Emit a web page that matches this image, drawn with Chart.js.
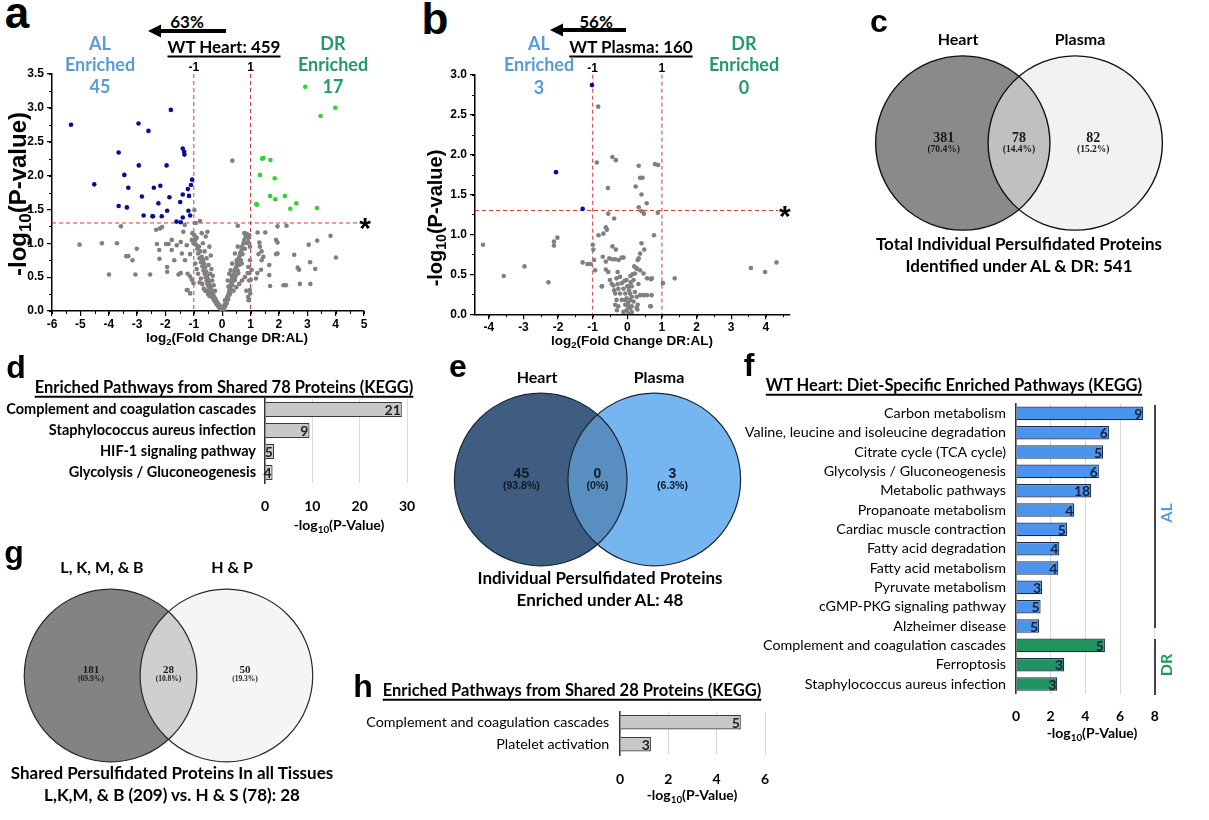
<!DOCTYPE html>
<html lang="en">
<head>
<meta charset="UTF-8">
<meta name="viewport" content="width=device-width, initial-scale=1.0">
<title>Persulfidated proteins: WT heart and plasma</title>
<script src="https://cdn.jsdelivr.net/npm/chart.js"></script>
<style>
  body { margin: 0; background: #fff; }
  #fig { position: relative; width: 1209px; height: 820px; overflow: hidden; font-family: Lato, "Open Sans", sans-serif; color: #000; }
  #fig canvas { position: absolute; }
  .tx { position: absolute; transform: translate(-50%, -50%); white-space: nowrap; line-height: 1; font-weight: bold; }
  .letter { font-family: "Liberation Sans", Arial, sans-serif; font-size: 32px; }
  .big { font-size: 44px; }
  .ttl { font-size: 16.5px; text-decoration: underline; text-decoration-thickness: 1.5px; text-underline-offset: 3px; }
  .cap { font-size: 17px; }
  .sans { font-family: "Liberation Sans", Arial, sans-serif; }
  .axb { font-size: 14px; }
  .al { color: #5b9bd5; font-size: 18px; }
  .dr { color: #239a68; font-size: 18px; }
  .rot { transform: translate(-50%, -50%) rotate(-90deg); }
  sub { font-size: 70%; vertical-align: -0.3em; line-height: 0; }
  .vline { position: absolute; width: 1.5px; background: #444; }
</style>
</head>
<body>
<div id="fig">
  <canvas id="heartVolcano" width="375" height="280" style="left:0px;top:55px"></canvas>
  <canvas id="plasmaVolcano" width="385" height="280" style="left:420px;top:55px"></canvas>
  <canvas id="vennC"></canvas>
  <canvas id="vennE"></canvas>
  <canvas id="vennG"></canvas>
  <canvas id="sharedBars" width="420" height="130" style="left:0px;top:390px"></canvas>
  <canvas id="dietBars" width="430" height="345" style="left:740px;top:395px"></canvas>
  <canvas id="tissueBars" width="430" height="90" style="left:350px;top:700px"></canvas>

  <!-- panel a -->
  <div class="tx letter big" style="left:17px;top:13px">a</div>
  <div class="tx" style="left:187px;top:21px;font-size:17px">63%</div>
  <svg style="position:absolute;left:146px;top:23px" width="82" height="16">
    <line x1="80" y1="8" x2="12" y2="8" stroke="#000" stroke-width="4"/>
    <polygon points="2,8 15,1.5 15,14.5" fill="#000"/>
  </svg>
  <div class="tx ttl" style="left:224px;top:46px;font-size:17px">WT Heart: 459</div>
  <div class="tx al" style="left:100px;top:43px">AL</div>
  <div class="tx al" style="left:100px;top:64px">Enriched</div>
  <div class="tx al" style="left:100px;top:86px">45</div>
  <div class="tx dr" style="left:333px;top:43px">DR</div>
  <div class="tx dr" style="left:333px;top:64px">Enriched</div>
  <div class="tx dr" style="left:333px;top:86px">17</div>
  <div class="tx sans rot" style="left:18px;top:194px;font-size:24px">-log<sub>10</sub>(P-value)</div>
  <div class="tx sans" style="left:227px;top:338px;font-size:13.5px">log<sub>2</sub>(Fold Change DR:AL)</div>

  <!-- panel b -->
  <div class="tx letter big" style="left:435px;top:19px">b</div>
  <div class="tx" style="left:596px;top:21px;font-size:17px">56%</div>
  <svg style="position:absolute;left:548px;top:22px" width="80" height="16">
    <line x1="78" y1="8" x2="12" y2="8" stroke="#000" stroke-width="4"/>
    <polygon points="2,8 15,1.5 15,14.5" fill="#000"/>
  </svg>
  <div class="tx ttl" style="left:631px;top:46px;font-size:17px">WT Plasma: 160</div>
  <div class="tx al" style="left:539px;top:43px">AL</div>
  <div class="tx al" style="left:539px;top:64px">Enriched</div>
  <div class="tx al" style="left:539px;top:87px">3</div>
  <div class="tx dr" style="left:744px;top:43px">DR</div>
  <div class="tx dr" style="left:744px;top:64px">Enriched</div>
  <div class="tx dr" style="left:744px;top:87px">0</div>
  <div class="tx sans rot" style="left:435px;top:218px;font-size:20px">-log<sub>10</sub>(P-value)</div>
  <div class="tx sans" style="left:632px;top:341px;font-size:13.5px">log<sub>2</sub>(Fold Change DR:AL)</div>

  <!-- panel c -->
  <div class="tx letter" style="left:879px;top:21px">c</div>
  <div class="tx" style="left:958px;top:39px;font-size:16px">Heart</div>
  <div class="tx" style="left:1080px;top:39px;font-size:16px">Plasma</div>
  <div class="tx cap" style="left:1019px;top:243px">Total Individual Persulfidated Proteins</div>
  <div class="tx cap" style="left:1019px;top:265px">Identified under AL &amp; DR: 541</div>

  <!-- panel d -->
  <div class="tx letter" style="left:16px;top:367px">d</div>
  <div class="tx ttl" style="left:224px;top:387px">Enriched Pathways from Shared 78 Proteins (KEGG)</div>
  <div class="tx axb" style="left:339px;top:525px">-log<sub>10</sub>(P-Value)</div>

  <!-- panel e -->
  <div class="tx letter" style="left:458px;top:366px">e</div>
  <div class="tx" style="left:537px;top:377px;font-size:16px">Heart</div>
  <div class="tx" style="left:659px;top:377px;font-size:16px">Plasma</div>
  <div class="tx cap" style="left:600px;top:577px">Individual Persulfidated Proteins</div>
  <div class="tx cap" style="left:600px;top:599px">Enriched under AL: 48</div>

  <!-- panel f -->
  <div class="tx letter" style="left:749px;top:365px">f</div>
  <div class="tx ttl" style="left:954px;top:385px">WT Heart: Diet-Specific Enriched Pathways (KEGG)</div>
  <div class="vline" style="left:1154px;top:405px;height:223px"></div>
  <div class="vline" style="left:1154px;top:639px;height:56px"></div>
  <div class="tx rot" style="left:1166px;top:513px;font-size:16px;color:#5b9bd5">AL</div>
  <div class="tx rot" style="left:1166px;top:665px;font-size:16px;color:#1f9a5f">DR</div>
  <div class="tx axb" style="left:1092px;top:733px">-log<sub>10</sub>(P-Value)</div>

  <!-- panel g -->
  <div class="tx letter" style="left:14px;top:552px">g</div>
  <div class="tx" style="left:102px;top:567px;font-size:16px">L, K, M, &amp; B</div>
  <div class="tx" style="left:232px;top:567px;font-size:16px">H &amp; P</div>
  <div class="tx cap" style="left:172px;top:772px">Shared Persulfidated Proteins In all Tissues</div>
  <div class="tx cap" style="left:172px;top:794px">L,K,M, &amp; B (209) vs. H &amp; S (78): 28</div>

  <!-- panel h -->
  <div class="tx letter" style="left:363px;top:686px">h</div>
  <div class="tx ttl" style="left:572px;top:690px">Enriched Pathways from Shared 28 Proteins (KEGG)</div>
  <div class="tx axb" style="left:692px;top:795px">-log<sub>10</sub>(P-Value)</div>
</div>

<script>
// ---- panel a: WT heart volcano (log2 FC, -log10 p) ----
const heartAL = [[-5.33,2.75],[-4.51,1.87],[-3.65,2.34],[-2.95,2.77],[-2.60,2.66],[-1.81,2.97],
  [-2.94,2.15],[-3.45,2.01],[-1.96,2.15],[-1.39,2.40],[-1.34,2.35],[-1.33,2.31],[-3.31,1.82],
  [-2.41,1.82],[-2.18,1.85],[-1.06,1.94],[-1.10,1.86],[-1.21,1.80],[-2.83,1.69],[-1.86,1.68],
  [-1.39,1.72],[-1.17,1.70],[-3.65,1.55],[-3.36,1.53],[-2.25,1.59],[-1.48,1.61],[-1.94,1.48],
  [-1.19,1.48],[-2.77,1.41],[-2.46,1.40],[-2.44,1.40],[-2.13,1.40],[-1.13,1.41],[-1.39,1.38],
  [-1.61,1.32],[-1.46,1.31]];
const heartDR = [[2.93,3.31],[3.99,3.00],[3.47,2.88],[1.41,2.25],[1.45,2.26],[1.70,2.23],
  [1.33,2.01],[1.85,1.96],[1.69,1.70],[1.87,1.65],[2.21,1.70],[1.20,1.58],[1.22,1.57],
  [2.61,1.59],[2.40,1.51],[3.34,1.52]];
const heartOther = [[-5.03,0.98],[-4.24,1.00],[-3.71,1.00],[-3.99,0.54],[-3.57,1.25],[-3.38,0.81],
  [-3.31,0.81],[-3.16,0.75],[-3.01,0.92],[-3.06,0.54],[-2.54,0.54],[-2.33,1.20],[-2.19,1.22],
  [-2.12,1.24],[-2.30,0.99],[-2.22,0.90],[-2.21,0.77],[-1.98,0.99],[-1.89,0.99],[-1.94,0.65],
  [-1.94,0.58],[-1.78,1.05],[-1.69,0.75],[-1.78,0.90],[-1.54,0.54],[-1.46,0.56],[-1.60,0.97],
  [-1.46,1.02],[-1.37,1.17],[-1.32,1.27],[-1.42,0.85],[-1.31,0.75],[-1.25,0.97],[-1.22,0.31],
  [-1.13,0.84],[-1.07,1.05],[-1.01,1.00],[-0.98,1.49],[-0.93,1.30],[-0.78,1.33],[-1.05,1.15],
  [-1.22,0.55],[-1.13,0.51],[-1.07,0.46],[-1.01,0.41],[-1.25,0.31],[-1.13,0.26],
  [-0.98,1.12],[-0.95,1.05],[-0.92,0.98],[-0.90,1.08],[-0.88,0.92],[-0.85,0.85],[-0.82,0.95],
  [-0.80,0.78],[-0.78,0.88],[-0.75,0.72],[-0.72,0.80],[-0.70,0.66],[-0.68,0.75],[-0.66,0.60],
  [-0.64,0.70],[-0.62,0.55],[-0.60,0.64],[-0.58,0.50],[-0.56,0.58],[-0.55,0.45],[-0.53,0.52],
  [-0.52,0.40],[-0.50,0.47],[-0.48,0.36],[-0.47,0.42],[-0.45,0.32],[-0.44,0.38],[-0.42,0.29],
  [-0.41,0.34],[-0.40,0.26],[-0.38,0.31],[-0.37,0.23],[-0.35,0.28],[-0.34,0.20],[-0.32,0.25],
  [-0.31,0.18],[-0.30,0.22],[-0.28,0.16],[-0.27,0.20],[-0.25,0.14],[-0.24,0.18],[-0.22,0.12],
  [-0.21,0.15],[-0.19,0.10],[-0.18,0.13],[-0.16,0.08],[-0.15,0.11],[-0.13,0.07],[-0.12,0.09],
  [-0.10,0.05],[-0.09,0.08],[-0.07,0.04],[-0.06,0.06],[-0.04,0.03],[-0.03,0.05],[-0.01,0.02],
  [-0.85,0.55],[-0.75,0.48],[-0.70,0.40],[-0.65,0.33],[-0.60,0.30],[-0.90,0.62],[-0.95,0.70],
  [-0.55,0.30],[-0.50,0.25],[-0.45,0.22],[-0.80,0.42],[-0.62,0.88],[-0.55,0.78],[-0.48,0.68],
  [-0.42,0.55],[-0.35,0.45],[-0.30,0.38],[-0.25,0.30],[-0.68,1.00],[-0.58,1.10],[-0.52,1.17],
  [-0.45,0.95],[-0.40,0.82],[-0.72,1.15],[-0.38,0.62],[-0.33,0.52],
  [0.01,0.02],[0.03,0.04],[0.05,0.06],[0.06,0.03],[0.08,0.08],[0.10,0.10],[0.11,0.07],[0.13,0.13],
  [0.15,0.16],[0.16,0.11],[0.18,0.20],[0.20,0.22],[0.21,0.17],[0.23,0.26],[0.25,0.30],[0.26,0.24],
  [0.28,0.34],[0.30,0.38],[0.31,0.31],[0.33,0.42],[0.35,0.46],[0.36,0.38],[0.38,0.50],[0.40,0.54],
  [0.42,0.45],[0.44,0.58],[0.46,0.62],[0.48,0.52],[0.50,0.66],[0.52,0.70],[0.54,0.60],[0.56,0.74],
  [0.58,0.78],[0.60,0.68],[0.62,0.82],[0.64,0.86],[0.66,0.75],[0.68,0.90],[0.70,0.95],[0.72,0.84],
  [0.75,1.00],[0.78,1.05],[0.80,0.92],[0.83,1.10],[0.86,1.14],[0.88,1.00],[0.92,1.08],[0.95,1.12],
  [0.40,0.30],[0.50,0.35],[0.60,0.40],[0.70,0.45],[0.80,0.50],[0.90,0.56],[0.95,0.45],[0.85,0.30],
  [0.92,0.21],[0.97,0.31],[0.30,0.60],[0.35,0.70],[0.45,0.85],[0.55,0.95],[0.25,0.55],[0.20,0.45],
  [0.98,0.75],[0.92,0.65],[0.96,0.56],[1.01,0.46],[1.04,0.61],[0.63,0.83],[0.51,0.75],[0.69,0.70],
  [0.57,0.56],[0.34,0.51],[0.45,0.46],[0.22,0.36],[0.28,0.26],[0.10,0.16],[0.99,0.26],[0.93,0.16],
  [0.55,1.26],[0.78,1.15],[0.87,1.10],[0.92,1.02],[0.98,0.95],[1.25,1.16],[1.52,1.16],[1.95,1.25],
  [2.27,1.26],[1.90,1.05],[1.95,1.01],[1.31,1.01],[1.33,0.95],[1.39,0.88],[1.28,0.84],[1.45,0.80],
  [1.39,0.75],[1.90,0.84],[1.95,0.85],[1.66,0.68],[1.37,0.61],[1.24,0.56],[1.19,0.48],[1.66,0.53],
  [1.69,0.37],[2.16,0.38],[2.25,0.38],[2.54,0.83],[2.71,0.61],[2.66,0.64],[2.74,0.40],[3.11,0.40],
  [3.05,0.98],[3.35,1.04],[3.82,1.11],[3.10,0.72],[3.28,0.62],[4.01,0.79],[0.36,2.22]];

// ---- panel b: WT plasma volcano ----
const plasmaAL = [[-1.02,2.87],[-2.06,1.78],[-1.29,1.32]];
const plasmaDR = [];
const plasmaOther = [[-0.84,2.60],[-0.88,1.90],[-0.43,1.97],[-0.33,1.93],[-0.56,1.58],[-0.55,1.26],
  [-0.38,1.20],[0.33,1.86],[0.80,1.88],[0.89,1.87],[0.37,1.71],[0.44,1.71],[0.24,1.60],[0.41,1.50],
  [0.56,1.39],[0.33,1.34],[0.48,1.26],[0.41,1.29],[0.88,1.27],[0.77,0.99],[-4.17,0.87],[-3.57,0.48],
  [-2.97,0.60],[-2.28,0.40],[-2.12,0.86],[-2.12,0.91],[-2.02,0.96],[-1.29,0.65],[-1.15,0.63],
  [-1.06,0.63],[-1.00,0.87],[-0.98,0.81],[-0.96,0.68],[-0.93,0.55],[-0.83,0.99],[-0.69,1.01],
  [-0.62,1.09],[-0.59,1.06],[-0.73,0.35],[-0.71,0.72],[-0.62,0.66],[-0.52,0.70],[-0.43,0.85],
  [-0.33,0.81],[-0.62,0.56],[-0.55,0.53],[-0.43,0.69],[-0.35,0.69],[-0.25,0.68],[-0.16,0.71],
  [-0.11,0.71],[0.41,0.89],[0.49,0.81],[0.37,0.76],[0.33,0.70],[0.30,0.68],[0.27,0.58],[0.37,0.55],
  [0.47,0.51],[0.57,0.45],[0.68,0.44],[1.03,0.39],[1.37,0.45],[0.70,0.24],[0.47,0.24],[0.57,0.24],
  [0.68,0.10],[3.57,0.58],[3.98,0.53],[4.31,0.65],[0.29,0.06],
  [-0.31,0.45],[-0.28,0.53],[-0.21,0.47],[-0.16,0.39],[-0.26,0.32],[-0.11,0.32],[-0.21,0.26],
  [-0.06,0.26],[-0.02,0.20],[-0.16,0.18],[0.03,0.14],[-0.06,0.12],[0.08,0.08],[-0.02,0.05],
  [0.13,0.03],[0.03,0.01],[0.18,0.43],[0.22,0.51],[0.27,0.57],[0.13,0.35],[0.22,0.28],[0.13,0.22],
  [0.27,0.22],[0.18,0.16],[0.37,0.24],[-0.02,0.43],[0.03,0.35],[-0.31,0.18],[-0.26,0.10],
  [-0.11,0.03],[-0.40,0.36],[-0.35,0.26],[0.08,0.26],[0.08,0.18],[-0.06,0.18],[0.13,0.10],
  [0.27,0.08],[-0.74,0.35],[0.71,0.45],[0.66,0.10],[-0.50,0.43],[-0.45,0.38],[-0.38,0.30],
  [-0.30,0.05],[-0.35,0.12],[-0.28,0.38],[0.20,0.60],[0.15,0.50],[0.10,0.40],[0.05,0.30],
  [0.00,0.35],[0.02,0.10],[-0.08,0.42],[0.32,0.38],[0.30,0.12],[0.09,0.48]];

const foldCutoffs = [-1, 1];
const pCutoff = 1.3;

// ---- panel d: pathways from the 78 shared proteins ----
const sharedPathways = ['Complement and coagulation cascades', 'Staphylococcus aureus infection',
  'HIF-1 signaling pathway', 'Glycolysis / Gluconeogenesis'];
const sharedLogP = [28.9, 9.4, 1.9, 1.6];
const sharedCounts = [21, 9, 5, 4];

// ---- panel f: diet-specific pathways in WT heart ----
const dietPathways = ['Carbon metabolism', 'Valine, leucine and isoleucine degradation',
  'Citrate cycle (TCA cycle)', 'Glycolysis / Gluconeogenesis', 'Metabolic pathways',
  'Propanoate metabolism', 'Cardiac muscle contraction', 'Fatty acid degradation',
  'Fatty acid metabolism', 'Pyruvate metabolism', 'cGMP-PKG signaling pathway', 'Alzheimer disease',
  'Complement and coagulation cascades', 'Ferroptosis', 'Staphylococcus aureus infection'];
const dietLogP = [7.34, 5.36, 5.03, 4.78, 4.34, 3.36, 2.94, 2.50, 2.44, 1.50, 1.42, 1.34, 5.13, 2.78, 2.38];
const dietCounts = [9, 6, 5, 6, 18, 4, 5, 4, 4, 3, 5, 5, 5, 3, 3];
const dietGroup = ['AL','AL','AL','AL','AL','AL','AL','AL','AL','AL','AL','AL','DR','DR','DR'];

// ---- panel h: pathways from the 28 proteins shared by all tissues ----
const tissuePathways = ['Complement and coagulation cascades', 'Platelet activation'];
const tissueLogP = [5.0, 1.28];
const tissueCounts = [5, 3];

// ---- venn diagrams: [left only, shared, right only] ----
const heartPlasmaCounts = [381, 78, 82];
const heartPlasmaPct = ['70.4', '14.4', '15.2'];
const alEnrichedCounts = [45, 0, 3];
const alEnrichedPct = ['93.8', '0', '6.3'];
const tissueSetCounts = [181, 28, 50];
const tissueSetPct = ['69.9', '10.8', '19.3'];

Chart.defaults.font.family = "Lato, 'Open Sans', sans-serif";
Chart.defaults.color = '#000';
Chart.defaults.animation = false;
Chart.defaults.plugins.legend.display = false;
Chart.defaults.plugins.tooltip.enabled = false;

const axisFont = { family: "'Liberation Sans', Arial, sans-serif", weight: 'bold', size: 12 };

// keep the plot area exactly where the layout padding puts it
function noEdgePadding(s) {
  s.paddingLeft = 0; s.paddingRight = 0; s.paddingTop = 0; s.paddingBottom = 0;
}

// red dashed cut-off lines, their labels and the significance star
const cutoffPlugin = {
  id: 'cutoffs',
  beforeDatasetsDraw(chart, args, o) {
    const { ctx, chartArea: a, scales: { x, y } } = chart;
    const py = y.getPixelForValue(o.p);
    const endX = x.getPixelForValue(o.end);
    ctx.save();
    ctx.strokeStyle = '#d4373b';
    ctx.lineWidth = 1;
    ctx.setLineDash([4, 3]);
    o.fold.forEach(v => {
      const px = x.getPixelForValue(v);
      ctx.beginPath(); ctx.moveTo(px, a.top); ctx.lineTo(px, a.bottom); ctx.stroke();
    });
    ctx.beginPath(); ctx.moveTo(a.left, py); ctx.lineTo(endX, py); ctx.stroke();
    ctx.setLineDash([]);
    ctx.fillStyle = '#000';
    ctx.font = "bold 12px 'Liberation Sans'";
    ctx.textAlign = 'center';
    ctx.textBaseline = 'bottom';
    o.fold.forEach(v => ctx.fillText(String(v), x.getPixelForValue(v), a.top));
    ctx.font = "bold 30px 'Liberation Sans'";
    ctx.textAlign = 'left';
    ctx.textBaseline = 'middle';
    ctx.fillText('*', endX + 1, py + 7);
    ctx.restore();
  }
};

// small minor ticks between the labelled ones
const minorTicks = {
  id: 'minorTicks',
  afterDraw(chart, args, o) {
    const { ctx, chartArea: a, scales: { x, y } } = chart;
    ctx.save();
    ctx.strokeStyle = '#000';
    ctx.lineWidth = 1;
    for (let v = Math.ceil(x.min / o.x) * o.x; v <= x.max + 1e-9; v += o.x) {
      const px = Math.round(x.getPixelForValue(v)) + 0.5;
      ctx.beginPath(); ctx.moveTo(px, a.bottom); ctx.lineTo(px, a.bottom + 3); ctx.stroke();
    }
    for (let v = 0; v <= y.max + 1e-9; v += o.y) {
      const py = Math.round(y.getPixelForValue(v)) + 0.5;
      ctx.beginPath(); ctx.moveTo(a.left, py); ctx.lineTo(a.left - 3, py); ctx.stroke();
    }
    ctx.restore();
  }
};

function volcano(id, al, dr, other, cfg) {
  const toXY = arr => arr.map(p => ({ x: p[0], y: p[1] }));
  return new Chart(document.getElementById(id), {
    type: 'scatter',
    data: {
      datasets: [
        { data: toXY(al), backgroundColor: '#0a0a9c', borderWidth: 0, pointRadius: 2.3 },
        { data: toXY(dr), backgroundColor: '#2fd42f', borderWidth: 0, pointRadius: 2.3 },
        { data: toXY(other), backgroundColor: '#808080', borderWidth: 0, pointRadius: 2.3 }
      ]
    },
    options: {
      responsive: false,
      layout: { padding: { top: cfg.padTop, right: cfg.padRight, left: 0, bottom: 0 } },
      plugins: {
        cutoffs: { fold: foldCutoffs, p: pCutoff, end: cfg.lineEnd },
        minorTicks: { x: 0.5, y: 0.25 }
      },
      scales: {
        x: {
          type: 'linear', min: cfg.xMin, max: cfg.xMax,
          afterFit: s => { s.height = cfg.xH; noEdgePadding(s); },
          afterBuildTicks: s => { s.ticks = s.ticks.filter(t => Number.isInteger(t.value)); },
          ticks: { stepSize: 1, includeBounds: false, padding: 1, font: axisFont, color: '#000' },
          grid: { drawOnChartArea: false, tickLength: 5, color: '#000', lineWidth: 1.2 },
          border: { color: '#000', width: 1.5 }
        },
        y: {
          min: 0, max: cfg.yMax,
          afterFit: s => { s.width = cfg.yW; noEdgePadding(s); },
          ticks: { stepSize: 0.5, padding: 3, font: axisFont, color: '#000', callback: v => v.toFixed(1) },
          grid: { drawOnChartArea: false, tickLength: 5, color: '#000', lineWidth: 1.2 },
          border: { color: '#000', width: 1.5 }
        }
      }
    },
    plugins: [cutoffPlugin, minorTicks]
  });
}

// gene counts written inside the end of each bar
const countLabels = {
  id: 'countLabels',
  afterDatasetsDraw(chart, args, o) {
    const ctx = chart.ctx;
    ctx.save();
    ctx.font = "bold 14px Lato, 'Open Sans', sans-serif";
    ctx.fillStyle = o.color;
    ctx.textAlign = 'right';
    ctx.textBaseline = 'middle';
    chart.getDatasetMeta(0).data.forEach((bar, i) => ctx.fillText(String(o.counts[i]), bar.x - 1, bar.y + 1));
    ctx.restore();
  }
};

function pathwayBars(id, labels, values, counts, colors, cfg) {
  return new Chart(document.getElementById(id), {
    type: 'bar',
    data: {
      labels: labels,
      datasets: [{ data: values, backgroundColor: colors, borderColor: cfg.edge, borderWidth: 1.2,
        barPercentage: cfg.barPct, categoryPercentage: 1 }]
    },
    options: {
      indexAxis: 'y',
      responsive: false,
      layout: { padding: { top: cfg.padTop, right: cfg.padRight, left: 0, bottom: 0 } },
      plugins: { countLabels: { counts: counts, color: cfg.countColor } },
      scales: {
        y: {
          afterFit: s => { s.width = cfg.yW; noEdgePadding(s); },
          ticks: { padding: cfg.labelPad, font: cfg.labelFont, color: '#000', autoSkip: false },
          grid: { display: false, drawTicks: false, tickLength: 0 },
          border: { color: '#333', width: 1.5 }
        },
        x: {
          min: 0, max: cfg.xMax,
          afterFit: s => { s.height = cfg.xH; noEdgePadding(s); },
          ticks: { stepSize: cfg.step, padding: cfg.tickPad, font: { weight: 'bold', size: 14 }, color: '#000' },
          grid: { color: '#d9d9d9', drawTicks: false },
          border: { display: false }
        }
      }
    },
    plugins: [countLabels]
  });
}

// venn: two circles from a bubble chart, the lens painted on top, then the counts
const vennCenters = [-1, 1];
const vennTextPos = [-1.34, 0, 1.32];
const vennHalf = 2.65;

const vennLens = {
  id: 'vennLens',
  afterDatasetsDraw(chart, args, o) {
    const [a, b] = chart.getDatasetMeta(0).data;
    const ctx = chart.ctx;
    const r = o.radius;
    ctx.save();
    ctx.beginPath(); ctx.arc(a.x, a.y, r, 0, 2 * Math.PI); ctx.clip();
    ctx.beginPath(); ctx.arc(b.x, b.y, r, 0, 2 * Math.PI);
    ctx.fillStyle = o.color; ctx.fill();
    ctx.restore();
    ctx.save();
    ctx.strokeStyle = o.edge; ctx.lineWidth = o.width;
    [a, b].forEach(p => { ctx.beginPath(); ctx.arc(p.x, p.y, r, 0, 2 * Math.PI); ctx.stroke(); });
    const cy = a.y;
    ctx.textAlign = 'center';
    ctx.textBaseline = 'alphabetic';
    ctx.fillStyle = o.ink;
    const x = chart.scales.x;
    o.counts.forEach((c, i) => {
      const px = x.getPixelForValue(vennTextPos[i]);
      ctx.font = o.numFont; ctx.fillText(String(c), px, cy + o.numDy);
      ctx.font = o.pctFont; ctx.fillText('(' + o.pcts[i] + '%)', px, cy + o.pctDy);
    });
    ctx.restore();
  }
};

function venn(id, cx, cy, unit, r, counts, pcts, look) {
  const el = document.getElementById(id);
  const size = Math.round(2 * vennHalf * unit);
  const radiusPx = r * size / (2 * vennHalf);
  el.width = size; el.height = size;
  el.style.left = Math.round(cx - size / 2) + 'px';
  el.style.top = Math.round(cy - size / 2) + 'px';
  return new Chart(el, {
    type: 'bubble',
    data: {
      datasets: [{
        data: vennCenters.map(c => ({ x: c, y: 0 })),
        backgroundColor: look.fills, borderWidth: 0,
        radius: radiusPx, hoverRadius: 0, clip: false
      }]
    },
    options: {
      responsive: false,
      layout: { padding: 0, autoPadding: false },
      scales: {
        x: { display: false, min: -vennHalf, max: vennHalf },
        y: { display: false, min: -vennHalf, max: vennHalf }
      },
      plugins: {
        vennLens: { radius: radiusPx, color: look.lens, edge: look.edge, width: look.width, ink: look.ink,
          counts: counts, pcts: pcts, numFont: look.numFont, pctFont: look.pctFont,
          numDy: look.numDy, pctDy: look.pctDy }
      }
    },
    plugins: [vennLens]
  });
}

volcano('heartVolcano', heartAL, heartDR, heartOther,
  { xMin: -6, xMax: 5, yMax: 3.5, yW: 52, xH: 24, padTop: 19, padRight: 11, lineEnd: 4.8 });
volcano('plasmaVolcano', plasmaAL, plasmaDR, plasmaOther,
  { xMin: -4.4, xMax: 4.7, yMax: 3.0, yW: 55, xH: 20.7, padTop: 19.7, padRight: 15, lineEnd: 4.35 });

const serifLook = {
  edge: '#111', width: 1.4, ink: '#1a1a1a',
  numFont: "bold 14px 'Liberation Serif', serif", pctFont: "bold 9.5px 'Liberation Serif', serif",
  numDy: -1, pctDy: 9
};
venn('vennC', 1018.9, 142.5, 56.15, 1.55, heartPlasmaCounts, heartPlasmaPct,
  Object.assign({}, serifLook, { fills: ['#8a8a8a', '#f2f2f2'], lens: '#c0c0c0' }));
venn('vennE', 597.5, 479, 56.7, 1.52, alEnrichedCounts, alEnrichedPct,
  { fills: ['#3e5d80', '#75b6f0'], lens: '#588ec0', edge: '#1b2634', width: 1.2, ink: '#0e1a28',
    numFont: "bold 14px 'Liberation Sans', Arial", pctFont: "bold 10.5px 'Liberation Sans', Arial",
    numDy: -2, pctDy: 9 });
venn('vennG', 168.7, 675, 58, 1.49, tissueSetCounts, tissueSetPct,
  Object.assign({}, serifLook, { fills: ['#838383', '#f5f5f5'], lens: '#cfcfcf', edge: '#2a2a2a', width: 1.2,
    numFont: "bold 11px 'Liberation Serif', serif", pctFont: "bold 7.5px 'Liberation Serif', serif",
    numDy: -3, pctDy: 5 }));

pathwayBars('sharedBars', sharedPathways, sharedLogP, sharedCounts, '#c8c8c8',
  { edge: '#3a3a3a', barPct: 0.72, padTop: 9, padRight: 13, yW: 265, xH: 37, xMax: 30, step: 10,
    tickPad: 15, labelPad: 9, labelFont: { weight: 'bold', size: 14.5 }, countColor: '#222' });
pathwayBars('dietBars', dietPathways, dietLogP, dietCounts,
  dietGroup.map(g => g === 'AL' ? '#4a94ee' : '#1f9460'),
  { edge: '#1c2b4a', barPct: 0.7, padTop: 8.7, padRight: 15.3, yW: 276, xH: 46.3, xMax: 8, step: 2,
    tickPad: 14, labelPad: 10, labelFont: { size: 14.3 }, countColor: '#15203a' });
pathwayBars('tissueBars', tissuePathways, tissueLogP, tissueCounts, '#c8c8c8',
  { edge: '#3a3a3a', barPct: 0.66, padTop: 11.3, padRight: 15, yW: 270, xH: 34.7, xMax: 6, step: 2,
    tickPad: 15.7, labelPad: 10.7, labelFont: { size: 14.3 }, countColor: '#222' });
</script>
</body>
</html>
